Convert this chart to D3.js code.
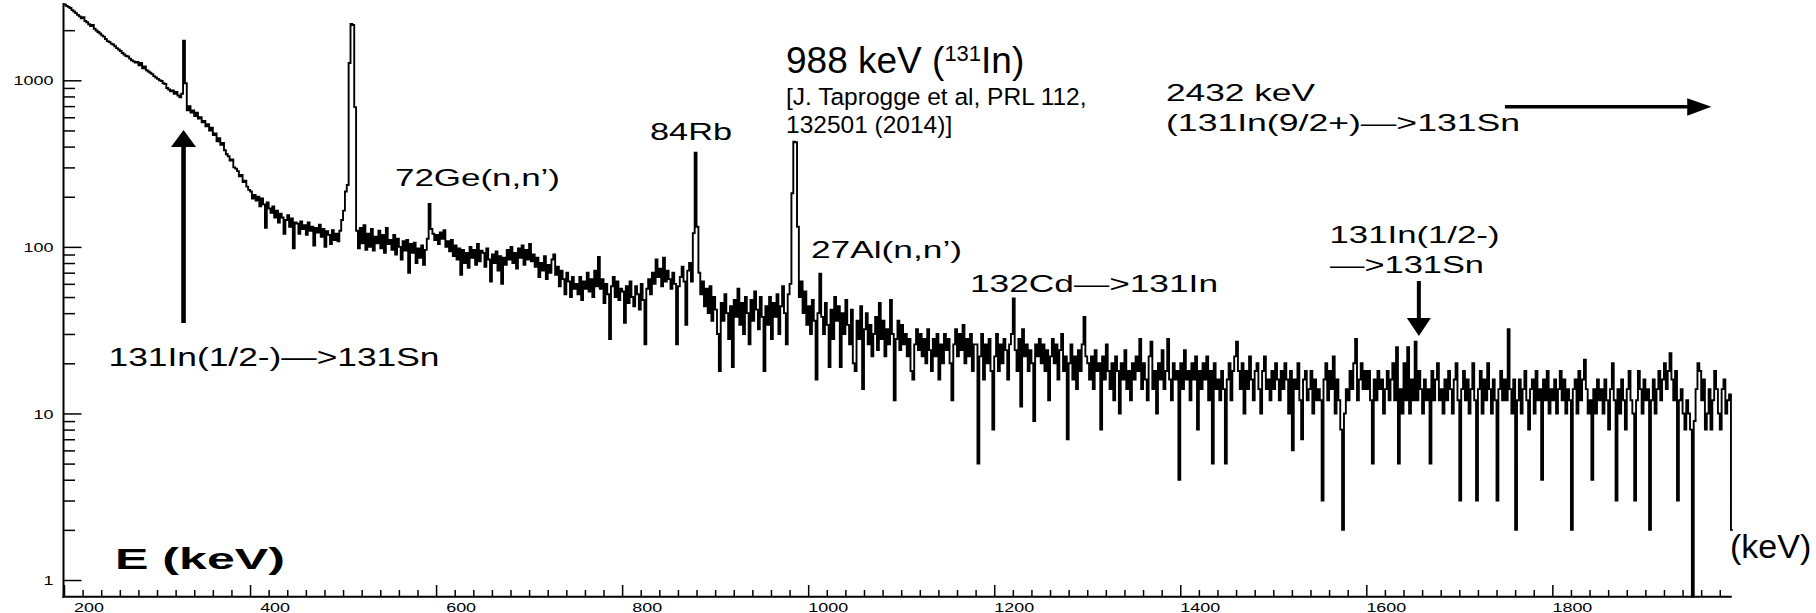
<!DOCTYPE html>
<html>
<head>
<meta charset="utf-8">
<script src="https://cdn.jsdelivr.net/npm/d3@7"></script>
<style>
  html, body { margin: 0; padding: 0; background: #fff; }
  svg { display: block; }
</style>
</head>
<body>
<svg id="chart" width="1816" height="613"></svg>
<script>
// Gamma-ray energy spectrum, 2 keV bins starting at 200 keV
const binStart = 200;
const binWidth = 2;

// counts, 200-498 keV
const counts200 = [
  2850, 2800, 2760, 2720, 2640, 2590, 2530, 2470, 2420, 2360, 2390, 2270, 2230, 2170, 2120, 2150, 2040, 1990, 1950, 1910, 1860, 1830, 1770, 1720, 1700,
  1660, 1640, 1600, 1560, 1530, 1500, 1460, 1430, 1400, 1390, 1350, 1320, 1300, 1280, 1290, 1230, 1270, 1180, 1210, 1150, 1130, 1110, 1090, 1060, 1040,
  1020, 1000, 990, 960, 950, 900, 880, 860, 870, 830, 850, 810, 790, 830, 1730, 960, 660, 700, 640, 660, 610, 640, 590, 600, 560,
  570, 530, 545, 500, 520, 470, 480, 430, 450, 410, 420, 380, 360, 350, 330, 335, 300, 295, 285, 265, 270, 245, 250, 230, 220,
  215, 195, 205, 190, 200, 175, 195, 180, 130, 185, 170, 160, 175, 150, 165, 140, 158, 150, 120, 145, 155, 132, 148, 98, 140,
  138, 120, 142, 128, 135, 118, 140, 125, 132, 102, 130, 122, 136, 115, 128, 100, 124, 118, 104, 126, 110, 120, 108, 125, 145
];

// counts, 500-998 keV
const counts500 = [
  165, 215, 235, 1270, 2180, 2150, 690, 125, 98, 130, 105, 135, 96, 120, 100, 128, 95, 115, 105, 125, 98, 118, 92, 130, 104,
  110, 96, 118, 90, 112, 100, 84, 108, 95, 110, 70, 104, 92, 106, 80, 98, 86, 102, 78, 96, 112, 181, 128, 120, 110,
  118, 104, 122, 112, 126, 100, 108, 94, 110, 88, 102, 84, 98, 68, 96, 80, 92, 75, 100, 86, 96, 78, 104, 82, 95,
  92, 76, 98, 84, 62, 90, 80, 94, 72, 88, 60, 86, 78, 96, 84, 100, 80, 92, 74, 98, 86, 102, 78, 96, 84,
  104, 82, 90, 76, 86, 66, 80, 72, 88, 64, 78, 70, 84, 90, 68, 76, 58, 72, 64, 52, 70, 62, 50, 66, 56,
  60, 52, 66, 48, 62, 56, 70, 54, 64, 50, 72, 58, 87, 56, 64, 46, 60, 52, 28, 58, 66, 50, 62, 48, 56,
  54, 35, 58, 46, 62, 50, 44, 58, 52, 42, 60, 48, 26, 56, 64, 52, 70, 60, 84, 66, 74, 58, 86, 62, 72,
  64, 56, 70, 60, 26, 58, 66, 76, 62, 34, 72, 80, 62, 121, 368, 132, 70, 52, 62, 44, 56, 40, 58, 36, 50,
  42, 30, 18, 46, 36, 52, 40, 28, 44, 19, 48, 38, 56, 34, 46, 30, 50, 40, 26, 48, 36, 54, 42, 32, 50,
  38, 18, 44, 34, 50, 28, 46, 38, 52, 30, 44, 58, 40, 26, 52, 60, 210, 428, 425, 132, 50, 62, 40, 54, 34
];

// counts, 1000-1498 keV
const counts1000 = [
  44, 30, 48, 36, 16, 40, 69, 38, 30, 46, 34, 19, 42, 28, 50, 36, 44, 19, 40, 30, 48, 34, 26, 42, 20,
  18, 36, 28, 44, 14, 32, 40, 26, 34, 22, 30, 38, 24, 46, 28, 36, 22, 32, 26, 48, 30, 12, 28, 36, 24,
  34, 26, 30, 22, 28, 18, 16, 26, 32, 24, 30, 22, 28, 20, 32, 24, 18, 28, 22, 30, 16, 26, 20, 30, 24,
  28, 20, 12, 26, 32, 22, 30, 24, 34, 20, 28, 22, 30, 18, 26, 26, 5, 22, 30, 16, 26, 20, 28, 18, 8,
  22, 30, 18, 26, 20, 28, 24, 16, 26, 30, 49, 24, 18, 28, 11, 32, 22, 26, 18, 24, 20, 9, 26, 22, 28,
  20, 26, 18, 24, 12, 22, 28, 20, 26, 16, 24, 30, 18, 22, 7, 20, 26, 16, 22, 14, 24, 18, 26, 38, 22,
  20, 16, 22, 14, 24, 18, 20, 8, 22, 16, 26, 18, 14, 20, 12, 22, 18, 10, 20, 16, 24, 14, 18, 12, 20,
  16, 22, 18, 28, 14, 20, 16, 12, 22, 27, 14, 18, 10, 20, 16, 24, 14, 18, 28, 16, 12, 20, 16, 18, 4,
  20, 14, 24, 16, 18, 12, 20, 16, 22, 8, 18, 14, 20, 16, 22, 12, 18, 5, 20, 14, 16, 12, 18, 14, 5,
  16, 20, 12, 18, 22, 27, 18, 14, 20, 10, 18, 14, 22, 16, 12, 18, 20, 14, 10, 18, 22, 14, 16, 12, 18
];

// counts, 1500-1992 keV
const counts1500 = [
  14, 20, 16, 12, 18, 14, 20, 16, 10, 18, 6, 16, 14, 20, 12, 7, 16, 18, 12, 14, 18, 10, 16, 12, 14,
  12, 3, 16, 20, 12, 18, 14, 22, 10, 16, 12, 8, 2, 10, 14, 12, 18, 14, 20, 28, 12, 16, 20, 14, 18,
  14, 18, 12, 5, 16, 12, 18, 14, 16, 10, 14, 18, 12, 16, 20, 12, 25, 5, 14, 10, 20, 12, 25, 10, 16,
  12, 27, 12, 18, 14, 10, 16, 12, 14, 5, 18, 12, 16, 20, 12, 14, 10, 16, 12, 18, 14, 10, 16, 20, 12,
  3, 14, 18, 12, 16, 10, 14, 20, 12, 3, 14, 18, 10, 16, 12, 20, 14, 10, 16, 12, 3, 14, 18, 12, 16,
  12, 32, 14, 10, 16, 2, 12, 16, 10, 14, 18, 12, 8, 14, 16, 10, 18, 12, 14, 4, 16, 12, 18, 10, 14,
  12, 16, 10, 14, 18, 12, 16, 10, 14, 12, 2, 14, 16, 10, 18, 12, 16, 21, 14, 10, 12, 4, 14, 10, 16,
  12, 14, 10, 16, 12, 8, 14, 20, 12, 3, 14, 10, 16, 12, 8, 14, 18, 12, 10, 3, 12, 18, 14, 10, 16,
  12, 14, 2, 12, 16, 10, 14, 18, 12, 16, 20, 14, 18, 23, 16, 12, 18, 3, 12, 14, 10, 8, 12, 10, 8,
  0, 9, 14, 20, 18, 12, 16, 8, 10, 14, 8, 12, 18, 14, 10, 8, 14, 16, 10, 12, 13, 2
];

// axis ticks
const xMajorTicks = [200, 400, 600, 800, 1000, 1200, 1400, 1600, 1800];
const xMinorStep = 20;
const yMajorTicks = [1, 10, 100, 1000];
const yTickLabels = ["1", "10", "100", "1000"];

// ---------------------------------------------------------------------------
const counts = counts200.concat(counts500, counts1000, counts1500);
const bins = counts.map((c, i) => ({ e: binStart + i * binWidth, c }));
const eMax = binStart + counts.length * binWidth;

const svg = d3.select("#chart");
const plotBottom = 596.7;

const x = d3.scaleLinear().domain([binStart, eMax]).range([64, 1732.8]);
const y = d3.scaleLog().domain([0.794, 3035]).range([plotBottom, 0]);
const yOf = c => (c > 0 ? y(c) : plotBottom);

// ROOT-style stretched labels
const stretch = 1.38;
const axisFont = "'Liberation Sans', Arial, Helvetica, sans-serif";

// x axis: major ticks with labels, minor ticks
const xMinor = d3.range(binStart + xMinorStep, eMax, xMinorStep).filter(v => v % 200 !== 0);
const gxMinor = svg.append("g").attr("transform", `translate(0,${plotBottom})`)
  .call(d3.axisBottom(x).tickValues(xMinor).tickSize(-6.7).tickFormat(""));
const gx = svg.append("g").attr("transform", `translate(0,${plotBottom})`)
  .call(d3.axisBottom(x).tickValues(xMajorTicks).tickSize(-11.7).tickFormat(d3.format("d")));
[gx, gxMinor].forEach(g => {
  g.select(".domain").remove();
  g.selectAll(".tick line").attr("stroke", "#000").attr("stroke-width", 1.5);
});
gx.selectAll(".tick text")
  .attr("x", null).attr("y", null).attr("dy", null)
  .attr("text-anchor", "end")
  .attr("transform", `translate(39.5,15) scale(${stretch},1)`)
  .attr("font-family", axisFont).attr("font-size", 13).attr("fill", "#000");

// y axis: decades with labels, minor ticks 2..9
const yMinor = [];
yMajorTicks.forEach(d => { for (let m = 2; m <= 9; m++) if (m * d <= 2000) yMinor.push(m * d); });
const gyMinor = svg.append("g").attr("transform", "translate(63.5,0)")
  .call(d3.axisLeft(y).tickValues(yMinor).tickSize(-11.5).tickFormat(""));
const gy = svg.append("g").attr("transform", "translate(63.5,0)")
  .call(d3.axisLeft(y).tickValues(yMajorTicks).tickSize(-18)
    .tickFormat((d, i) => yTickLabels[i]));
[gy, gyMinor].forEach(g => {
  g.select(".domain").remove();
  g.selectAll(".tick line").attr("stroke", "#000").attr("stroke-width", 1.5);
});
gy.selectAll(".tick text")
  .attr("x", null).attr("dy", null)
  .attr("text-anchor", "end")
  .attr("transform", `translate(-10,4.6) scale(${stretch},1)`)
  .attr("font-family", axisFont).attr("font-size", 13).attr("fill", "#000");

// frame lines
svg.append("line").attr("x1", 63.5).attr("x2", 63.5).attr("y1", 3).attr("y2", plotBottom + 1)
  .attr("stroke", "#000").attr("stroke-width", 2);
svg.append("line").attr("x1", 62.5).attr("x2", x(eMax) - 1).attr("y1", plotBottom).attr("y2", plotBottom)
  .attr("stroke", "#000").attr("stroke-width", 2);

// histogram as a step line
const stepPts = bins.concat([{ e: eMax, c: counts[counts.length - 1] }]);
svg.append("path")
  .datum(stepPts)
  .attr("fill", "none")
  .attr("stroke", "#000")
  .attr("stroke-width", 1.9)
  .attr("stroke-linejoin", "miter")
  .attr("d", d3.line().x(d => x(d.e)).y(d => yOf(d.c)).curve(d3.curveStepAfter));

// arrows
function upArrow(cx, tipY, baseY, headH, headW, shaftW) {
  return `M${cx - shaftW / 2},${baseY} L${cx - shaftW / 2},${tipY + headH} L${cx - headW / 2},${tipY + headH}
          L${cx},${tipY} L${cx + headW / 2},${tipY + headH} L${cx + shaftW / 2},${tipY + headH} L${cx + shaftW / 2},${baseY} Z`;
}
function downArrow(cx, tipY, topY, headH, headW, shaftW) {
  return `M${cx - shaftW / 2},${topY} L${cx - shaftW / 2},${tipY - headH} L${cx - headW / 2},${tipY - headH}
          L${cx},${tipY} L${cx + headW / 2},${tipY - headH} L${cx + shaftW / 2},${tipY - headH} L${cx + shaftW / 2},${topY} Z`;
}
svg.append("path").attr("d", upArrow(x(328.5), 130, 323, 17, 25, 4.6)).attr("fill", "#000");
svg.append("path").attr("d", downArrow(x(1656.5), 336, 281, 18, 24, 4)).attr("fill", "#000");
svg.append("path")
  .attr("d", `M${x(1749)},105 L${x(1945)},105 L${x(1945)},98.3 L${x(1971)},106.7 L${x(1945)},115.7 L${x(1945)},108.5 L${x(1749)},108.5 Z`)
  .attr("fill", "#000");

// stretched annotation labels
const rootLabels = [
  { t: "131In(1/2-)\u2014>131Sn", x: 108.5, y: 365.7, w: 331, s: 25 },
  { t: "72Ge(n,n\u2019)", x: 395, y: 186, w: 165, s: 24 },
  { t: "84Rb", x: 650, y: 140, w: 82, s: 24 },
  { t: "27Al(n,n\u2019)", x: 811, y: 258.3, w: 151, s: 24 },
  { t: "132Cd\u2014>131In", x: 970, y: 291.7, w: 248, s: 24 },
  { t: "2432 keV", x: 1166, y: 101, w: 149, s: 24 },
  { t: "(131In(9/2+)\u2014>131Sn", x: 1166, y: 131, w: 354, s: 24 },
  { t: "131In(1/2-)", x: 1329.5, y: 243.3, w: 170, s: 24 },
  { t: "\u2014>131Sn", x: 1330, y: 273.3, w: 154, s: 24 }
];
svg.append("g").selectAll("text").data(rootLabels).join("text")
  .attr("x", d => d.x).attr("y", d => d.y)
  .attr("textLength", d => d.w).attr("lengthAdjust", "spacingAndGlyphs")
  .attr("font-family", axisFont).attr("font-size", d => d.s).attr("fill", "#000")
  .text(d => d.t);

svg.append("text")
  .attr("x", 115).attr("y", 569)
  .attr("textLength", 170).attr("lengthAdjust", "spacingAndGlyphs")
  .attr("font-family", axisFont).attr("font-size", 30).attr("font-weight", "bold").attr("fill", "#000")
  .text("E (keV)");

// 988 keV reference note
const note = svg.append("text").attr("x", 786).attr("y", 72.7)
  .attr("font-family", axisFont).attr("font-size", 37).attr("fill", "#000");
note.append("tspan").text("988 keV (");
note.append("tspan").attr("font-size", 22).attr("dy", -12).text("131");
note.append("tspan").attr("dy", 12).text("In)");

svg.append("text").attr("x", 786).attr("y", 105)
  .attr("font-family", axisFont).attr("font-size", 24.5).attr("fill", "#000")
  .text("[J. Taprogge et al, PRL 112,");
svg.append("text").attr("x", 786).attr("y", 133)
  .attr("font-family", axisFont).attr("font-size", 24.5).attr("fill", "#000")
  .text("132501 (2014)]");

svg.append("text").attr("x", 1730).attr("y", 558)
  .attr("font-family", axisFont).attr("font-size", 34).attr("fill", "#000")
  .text("(keV)");
</script>
</body>
</html>
